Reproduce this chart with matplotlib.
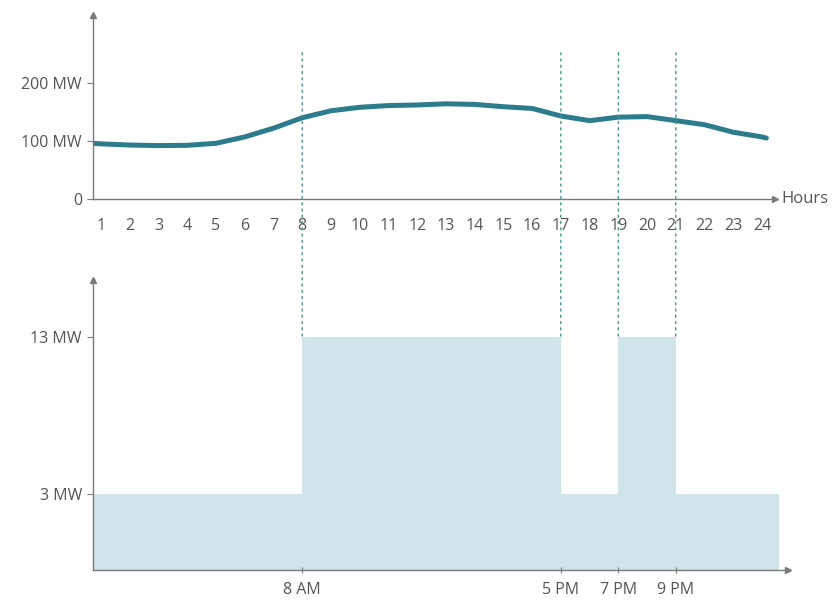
import matplotlib
matplotlib.use('Agg')
import matplotlib.pyplot as plt
from matplotlib.patches import ConnectionPatch

plt.rcParams['font.family'] = ['Open Sans', 'DejaVu Sans']

# top: power demand over the day
hours = [0.72, 1, 2, 3, 4, 5, 6, 7, 8, 9, 10, 11, 12, 13, 14, 15, 16,
         17, 18, 19, 20, 21, 22, 23, 24, 24.15]
demand = [96, 95, 93, 92, 92.5, 96, 107, 122, 140, 152, 158, 161, 162,
          164, 163, 159, 156, 143, 135, 141, 142, 135, 128, 115, 107, 105]
hour_labels = [str(h) for h in range(1, 25)]
top_ticks = [0, 100, 200]
top_tick_labels = ['0', '100 MW', '200 MW']

# bottom: step load
step_x = [0.72, 8, 17, 19, 21, 24.6]
step_y = [3, 13, 3, 13, 3, 3]
bottom_ticks = [3, 13]
bottom_tick_labels = ['3 MW', '13 MW']
marks = [8, 17, 19, 21]
mark_labels = ['8 AM', '5 PM', '7 PM', '9 PM']

axis_col = '#7a7a7a'
text_col = '#555555'
line_col = '#2b7d8c'
fill_col = '#cfe5ea'
dash_col = '#3f9c8c'

fig = plt.figure(figsize=(8.32, 6.0), dpi=100)
ax1 = fig.add_axes([0.1118, 0.6683, 0.8197, 0.3067])
ax2 = fig.add_axes([0.1118, 0.05, 0.835, 0.4833])

for ax in (ax1, ax2):
    for s in ['top', 'right']:
        ax.spines[s].set_visible(False)
    for s in ['left', 'bottom']:
        ax.spines[s].set_color(axis_col)
        ax.spines[s].set_linewidth(1.0)
    ax.tick_params(colors=axis_col, labelcolor=text_col, labelsize=11.5, width=0.8)
    ax.plot(1, 0, '>', color=axis_col, markersize=4, transform=ax.transAxes, clip_on=False)
    ax.plot(0, 1, '^', color=axis_col, markersize=4, transform=ax.transAxes, clip_on=False)

# top panel
ax1.plot(hours, demand, color=line_col, linewidth=3.6,
         solid_capstyle='round', solid_joinstyle='round')
ax1.set_xlim(0.72, 24.45)
ax1.set_ylim(0, 317)
ax1.set_xticks(range(1, 25))
ax1.set_xticklabels(hour_labels)
ax1.tick_params(axis='x', length=0, pad=14)
ax1.set_yticks(top_ticks)
ax1.set_yticklabels(top_tick_labels)
ax1.tick_params(axis='y', length=4, pad=4)
ax1.text(1.01, 0, 'Hours', transform=ax1.transAxes, va='center', ha='left',
         fontsize=12, color=text_col)

# bottom panel
ax2.fill_between(step_x, step_y, -1.84, step='post', color=fill_col, linewidth=0)
ax2.set_xlim(0.72, 24.9)
ax2.set_ylim(-1.84, 16.6)
ax2.set_xticks(marks)
ax2.set_xticklabels(mark_labels)
ax2.tick_params(axis='x', length=5, pad=6, direction='inout')
ax2.set_yticks(bottom_ticks)
ax2.set_yticklabels(bottom_tick_labels)
ax2.tick_params(axis='y', length=4, pad=4)

# dashed guides through both panels
for m in marks:
    con = ConnectionPatch(xyA=(m, 252), coordsA=ax1.transData,
                          xyB=(m, 13), coordsB=ax2.transData,
                          color=dash_col, linewidth=1.0, linestyle=(0, (1.5, 3)))
    fig.add_artist(con)

fig.savefig('out.png', dpi=100)
